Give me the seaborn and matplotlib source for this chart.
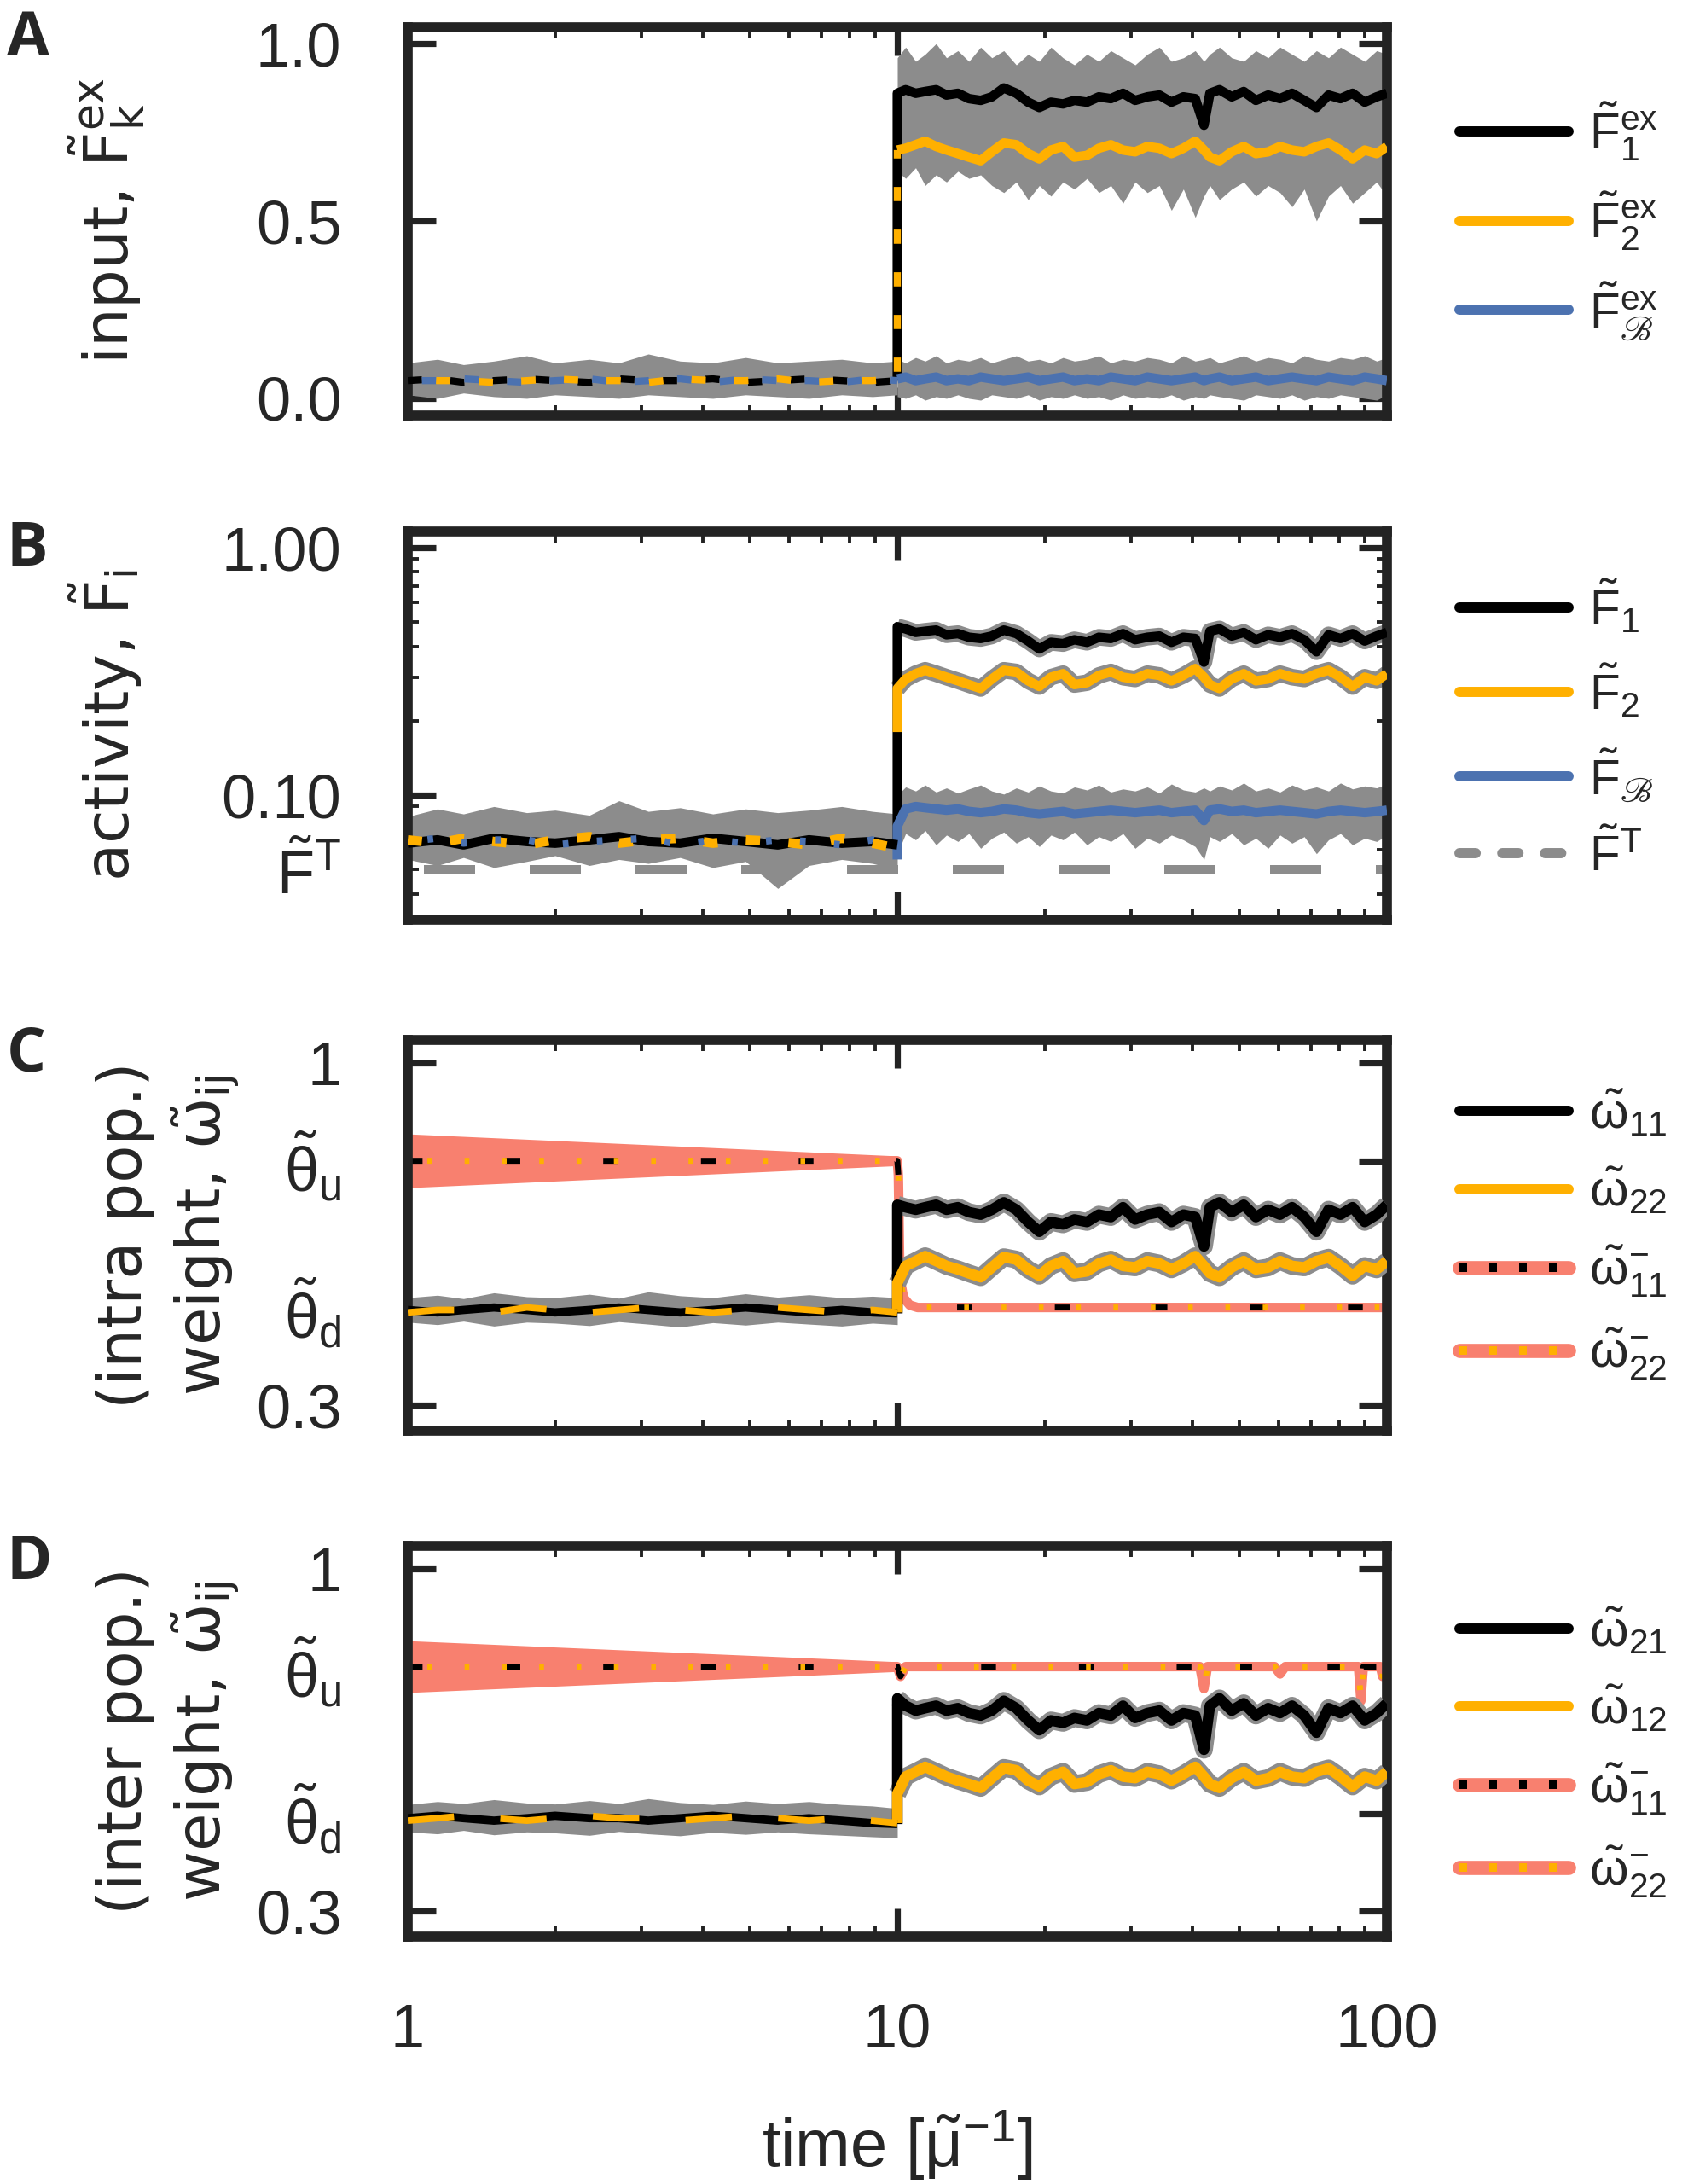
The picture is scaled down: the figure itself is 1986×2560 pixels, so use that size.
import matplotlib
matplotlib.use("Agg")
import matplotlib.pyplot as plt
import seaborn as sns
from matplotlib.lines import Line2D
from matplotlib.ticker import NullFormatter

sns.set_theme(style="white")
plt.rcParams["font.family"] = ["Liberation Sans", "DejaVu Sans"]
plt.rcParams["mathtext.fontset"] = "custom"
plt.rcParams["mathtext.rm"] = "Liberation Sans"
plt.rcParams["mathtext.it"] = "Liberation Sans:italic"
plt.rcParams["mathtext.default"] = "regular"
plt.rcParams["mathtext.fallback"] = "stix"

BLACK = "black"
ORANGE = "#FFB000"
BLUE = "#4C72B0"
GRAY = "#8C8C8C"
SALMON = "#F8806F"
SPINE = "#232323"
SCRIPT_B = "\u212C"

# sample times
T_PRE = [1.0, 1.15, 1.3, 1.5, 1.75, 2.0, 2.35, 2.7, 3.1, 3.6, 4.2, 4.9, 5.7, 6.6, 7.7, 8.9, 10.0]
T_POST = [10.0, 10.4, 10.9, 11.4, 12.0, 12.6, 13.3, 14.0, 14.8, 15.6,
          16.5, 17.5, 18.5, 19.5, 20.6, 21.8, 23.0, 24.4, 25.8, 27.3,
          28.9, 30.6, 32.4, 34.3, 36.3, 38.4, 40.6, 42.3, 43.5, 45.5,
          48.2, 51.0, 54.0, 57.2, 60.5, 64.0, 67.8, 71.8, 76.0, 80.4,
          85.1, 90.1, 95.3, 100.0]
T_WEDGE = [1.0, 10.0]

# ---- A: input ----
A_PRE_F1 = [0.05, 0.055, 0.045, 0.05, 0.055, 0.05, 0.045, 0.055, 0.05, 0.05, 0.055, 0.045, 0.05, 0.055, 0.05, 0.045, 0.05]
A_PRE_F2 = [0.055, 0.05, 0.05, 0.045, 0.05, 0.055, 0.05, 0.05, 0.045, 0.055, 0.05, 0.05, 0.055, 0.045, 0.05, 0.05, 0.055]
A_PRE_FB = [0.05, 0.05, 0.055, 0.05, 0.045, 0.05, 0.055, 0.045, 0.05, 0.055, 0.045, 0.055, 0.05, 0.05, 0.045, 0.055, 0.05]
A_PRE_HI = [0.10, 0.11, 0.095, 0.105, 0.12, 0.10, 0.11, 0.10, 0.125, 0.105, 0.10, 0.115, 0.10, 0.105, 0.11, 0.10, 0.105]
A_PRE_LO = [0.01, 0.0, 0.015, 0.005, 0.0, 0.01, 0.005, 0.0, 0.01, 0.005, 0.0, 0.01, 0.005, 0.0, 0.01, 0.005, 0.01]
A_F1 = [0.86, 0.87, 0.86, 0.865, 0.87, 0.855, 0.86, 0.845, 0.84, 0.85,
        0.875, 0.86, 0.835, 0.82, 0.835, 0.83, 0.84, 0.835, 0.85, 0.845,
        0.86, 0.84, 0.85, 0.855, 0.835, 0.85, 0.845, 0.77, 0.86, 0.87,
        0.85, 0.865, 0.84, 0.855, 0.845, 0.86, 0.84, 0.82, 0.855, 0.845,
        0.86, 0.835, 0.85, 0.86]
A_F2 = [0.70, 0.705, 0.715, 0.725, 0.71, 0.70, 0.69, 0.68, 0.67, 0.695,
        0.72, 0.715, 0.69, 0.675, 0.70, 0.71, 0.68, 0.685, 0.705, 0.715,
        0.70, 0.695, 0.71, 0.705, 0.69, 0.705, 0.725, 0.70, 0.68, 0.67,
        0.695, 0.71, 0.69, 0.695, 0.71, 0.70, 0.695, 0.71, 0.72, 0.70,
        0.675, 0.70, 0.69, 0.71]
A_FB = [0.055, 0.06, 0.05, 0.055, 0.06, 0.05, 0.055, 0.05, 0.06, 0.055,
        0.05, 0.055, 0.06, 0.05, 0.055, 0.06, 0.05, 0.055, 0.05, 0.06,
        0.055, 0.05, 0.06, 0.055, 0.05, 0.055, 0.06, 0.05, 0.055, 0.06,
        0.05, 0.055, 0.06, 0.05, 0.055, 0.06, 0.055, 0.05, 0.06, 0.055,
        0.05, 0.06, 0.055, 0.05]
A_HI = [0.96, 0.99, 0.95, 0.97, 1.0, 0.96, 0.98, 0.95, 0.99, 0.96,
        0.98, 0.94, 0.97, 0.95, 0.99, 0.96, 0.94, 0.97, 0.95, 0.98,
        0.96, 0.94, 0.97, 0.99, 0.95, 0.96, 0.98, 0.95, 0.97, 0.99,
        0.96, 0.95, 0.98, 0.96, 0.99, 0.97, 0.95, 0.98, 0.96, 0.99,
        0.97, 0.95, 0.98, 0.97]
A_LO = [0.64, 0.62, 0.65, 0.60, 0.63, 0.61, 0.64, 0.62, 0.63, 0.60,
        0.58, 0.61, 0.56, 0.60, 0.57, 0.61, 0.59, 0.62, 0.58, 0.60,
        0.55, 0.61, 0.58, 0.60, 0.53, 0.59, 0.51, 0.57, 0.60, 0.56,
        0.59, 0.61, 0.57, 0.60, 0.58, 0.54, 0.59, 0.50, 0.57, 0.60,
        0.55, 0.58, 0.61, 0.57]
A_B_HI = [0.11, 0.10, 0.115, 0.105, 0.12, 0.10, 0.11, 0.105, 0.115, 0.10,
          0.11, 0.12, 0.105, 0.11, 0.10, 0.115, 0.105, 0.11, 0.12, 0.10,
          0.11, 0.105, 0.115, 0.11, 0.10, 0.12, 0.105, 0.11, 0.115, 0.10,
          0.11, 0.12, 0.105, 0.115, 0.11, 0.10, 0.12, 0.11, 0.105, 0.115,
          0.11, 0.12, 0.105, 0.115]
A_B_LO = [0.005, 0.0, 0.01, -0.005, 0.005, 0.0, 0.01, 0.0, -0.005, 0.01,
          0.005, 0.0, 0.01, -0.005, 0.005, 0.0, 0.01, 0.0, 0.005, -0.005,
          0.01, 0.0, 0.005, 0.0, 0.01, -0.005, 0.005, 0.0, 0.01, 0.005,
          0.0, -0.005, 0.01, 0.005, 0.0, 0.01, -0.005, 0.005, 0.0, 0.01,
          0.005, 0.0, -0.005, 0.01]

# ---- B: activity ----
FT_LEVEL = 0.05
B_PRE_F1 = [0.064, 0.066, 0.063, 0.067, 0.065, 0.064, 0.066, 0.068, 0.065, 0.064, 0.067, 0.065, 0.063, 0.066, 0.064, 0.065, 0.063]
B_PRE_F2 = [0.066, 0.064, 0.067, 0.065, 0.063, 0.066, 0.068, 0.064, 0.066, 0.067, 0.064, 0.066, 0.065, 0.063, 0.067, 0.064, 0.061]
B_PRE_FB = [0.065, 0.067, 0.064, 0.066, 0.066, 0.063, 0.065, 0.066, 0.067, 0.063, 0.066, 0.064, 0.066, 0.065, 0.063, 0.066, 0.06]
B_PRE_HI = [0.082, 0.088, 0.084, 0.09, 0.085, 0.087, 0.083, 0.095, 0.086, 0.089, 0.084, 0.088, 0.085, 0.087, 0.09, 0.086, 0.084]
B_PRE_LO = [0.055, 0.052, 0.056, 0.051, 0.054, 0.057, 0.052, 0.055, 0.053, 0.056, 0.051, 0.054, 0.042, 0.052, 0.055, 0.053, 0.05]
B_F1 = [0.48, 0.47, 0.455, 0.46, 0.465, 0.445, 0.45, 0.435, 0.43, 0.44,
        0.465, 0.45, 0.42, 0.39, 0.415, 0.41, 0.425, 0.415, 0.435, 0.43,
        0.45, 0.425, 0.435, 0.44, 0.415, 0.435, 0.43, 0.345, 0.46, 0.47,
        0.44, 0.455, 0.425, 0.445, 0.435, 0.45, 0.425, 0.38, 0.445, 0.43,
        0.45, 0.42, 0.44, 0.455]
B_F2 = [0.27, 0.295, 0.31, 0.32, 0.31, 0.30, 0.29, 0.28, 0.27, 0.295,
        0.32, 0.315, 0.29, 0.275, 0.30, 0.31, 0.28, 0.285, 0.305, 0.315,
        0.30, 0.295, 0.31, 0.305, 0.29, 0.305, 0.325, 0.30, 0.28, 0.27,
        0.295, 0.31, 0.29, 0.295, 0.31, 0.30, 0.295, 0.31, 0.32, 0.30,
        0.275, 0.30, 0.29, 0.31]
B_FB = [0.075, 0.088, 0.09, 0.089, 0.088, 0.087, 0.088, 0.086, 0.085, 0.086,
        0.088, 0.087, 0.085, 0.084, 0.085, 0.086, 0.084, 0.085, 0.086, 0.087,
        0.086, 0.085, 0.086, 0.087, 0.085, 0.086, 0.087, 0.079, 0.087, 0.088,
        0.086, 0.087, 0.085, 0.086, 0.087, 0.086, 0.085, 0.084, 0.086, 0.087,
        0.086, 0.085, 0.086, 0.087]
B_HI = [0.10, 0.108, 0.104, 0.11, 0.103, 0.107, 0.102, 0.106, 0.11, 0.104,
        0.101, 0.107, 0.103, 0.109, 0.104, 0.102, 0.108, 0.105, 0.11, 0.103,
        0.106, 0.104, 0.108, 0.102, 0.111, 0.105, 0.103, 0.107, 0.104, 0.109,
        0.105, 0.112, 0.104, 0.107, 0.103, 0.11, 0.105, 0.108, 0.104, 0.112,
        0.106, 0.109, 0.107, 0.111]
B_LO = [0.058, 0.07, 0.066, 0.072, 0.063, 0.069, 0.065, 0.07, 0.061, 0.067,
        0.071, 0.064, 0.068, 0.062, 0.069, 0.066, 0.071, 0.063, 0.068, 0.065,
        0.07, 0.061, 0.067, 0.064, 0.069, 0.066, 0.062, 0.055, 0.068, 0.065,
        0.07, 0.063, 0.067, 0.061, 0.069, 0.064, 0.068, 0.058, 0.066, 0.07,
        0.063, 0.067, 0.065, 0.069]

# ---- C: intra population weights ----
C_PRE_W11 = [0.495, 0.49, 0.495, 0.5, 0.495, 0.49, 0.495, 0.5, 0.495, 0.49, 0.495, 0.5, 0.495, 0.49, 0.495, 0.49, 0.488]
C_PRE_W22 = [0.49, 0.495, 0.495, 0.49, 0.5, 0.495, 0.49, 0.495, 0.5, 0.495, 0.49, 0.495, 0.5, 0.495, 0.49, 0.495, 0.49]
C_PRE_HI = [0.52, 0.525, 0.518, 0.53, 0.522, 0.52, 0.527, 0.519, 0.532, 0.524, 0.52, 0.528, 0.521, 0.526, 0.52, 0.523, 0.52]
C_PRE_LO = [0.47, 0.465, 0.472, 0.462, 0.47, 0.468, 0.463, 0.471, 0.466, 0.46, 0.469, 0.464, 0.47, 0.466, 0.462, 0.468, 0.465]
C_W11 = [0.71, 0.705, 0.70, 0.705, 0.71, 0.70, 0.705, 0.695, 0.69, 0.70,
         0.715, 0.70, 0.675, 0.655, 0.675, 0.67, 0.68, 0.675, 0.69, 0.685,
         0.705, 0.68, 0.69, 0.695, 0.675, 0.69, 0.685, 0.625, 0.705, 0.715,
         0.695, 0.71, 0.685, 0.70, 0.69, 0.705, 0.685, 0.655, 0.70, 0.69,
         0.705, 0.675, 0.69, 0.71]
C_W22 = [0.55, 0.585, 0.595, 0.605, 0.595, 0.585, 0.578, 0.57, 0.562, 0.582,
         0.603, 0.598, 0.578, 0.565, 0.585, 0.595, 0.57, 0.574, 0.59, 0.598,
         0.585, 0.582, 0.595, 0.59, 0.578, 0.59, 0.605, 0.585, 0.57, 0.562,
         0.582, 0.595, 0.578, 0.582, 0.595, 0.585, 0.582, 0.595, 0.602, 0.585,
         0.565, 0.585, 0.578, 0.595]
C_WEDGE_HI = [0.855, 0.81]
C_WEDGE_LO = [0.745, 0.79]
T_BAR_C = [1.0, 10.0, 10.05, 10.12, 10.3, 10.6, 11.0, 100.0]
C_BAR = [0.80, 0.80, 0.77, 0.56, 0.52, 0.505, 0.50, 0.50]

# ---- D: inter population weights ----
D_PRE_W21 = [0.49, 0.495, 0.49, 0.485, 0.49, 0.495, 0.49, 0.49, 0.485, 0.49, 0.495, 0.49, 0.485, 0.49, 0.485, 0.48, 0.478]
D_PRE_W12 = [0.485, 0.49, 0.495, 0.49, 0.485, 0.49, 0.495, 0.49, 0.49, 0.485, 0.49, 0.495, 0.49, 0.485, 0.49, 0.485, 0.48]
D_PRE_HI = [0.518, 0.524, 0.52, 0.528, 0.521, 0.519, 0.526, 0.52, 0.53, 0.522, 0.518, 0.525, 0.52, 0.524, 0.518, 0.515, 0.51]
D_PRE_LO = [0.462, 0.458, 0.465, 0.456, 0.462, 0.46, 0.455, 0.463, 0.458, 0.454, 0.461, 0.457, 0.462, 0.458, 0.455, 0.452, 0.45]
D_W21 = [0.735, 0.72, 0.71, 0.715, 0.72, 0.71, 0.715, 0.705, 0.70, 0.71,
         0.73, 0.715, 0.69, 0.67, 0.69, 0.685, 0.695, 0.69, 0.705, 0.70,
         0.72, 0.695, 0.705, 0.71, 0.69, 0.705, 0.70, 0.63, 0.72, 0.735,
         0.71, 0.725, 0.70, 0.715, 0.705, 0.72, 0.70, 0.665, 0.715, 0.705,
         0.72, 0.69, 0.705, 0.725]
D_W12 = [0.54, 0.575, 0.585, 0.595, 0.585, 0.575, 0.567, 0.56, 0.552, 0.572,
         0.593, 0.588, 0.567, 0.555, 0.575, 0.585, 0.56, 0.564, 0.58, 0.588,
         0.575, 0.572, 0.585, 0.58, 0.567, 0.58, 0.595, 0.575, 0.56, 0.552,
         0.572, 0.585, 0.567, 0.572, 0.585, 0.575, 0.572, 0.585, 0.592, 0.575,
         0.555, 0.575, 0.567, 0.585]
D_WEDGE_HI = [0.853, 0.81]
D_WEDGE_LO = [0.747, 0.79]
T_BAR_D = [1.0, 10.0, 10.15, 10.4, 41.5, 42.3, 43.0, 59.0, 60.5, 62.0, 87.5, 88.5, 89.5, 97.0, 98.0, 99.0, 100.0]
D_BAR = [0.80, 0.80, 0.78, 0.80, 0.80, 0.755, 0.80, 0.80, 0.785, 0.80, 0.80, 0.73, 0.80, 0.80, 0.78, 0.80, 0.80]

THETA_U, THETA_D = 0.8, 0.5
B_MINOR = [0.04, 0.05, 0.06, 0.07, 0.08, 0.09, 0.2, 0.3, 0.4, 0.5, 0.6, 0.7, 0.8, 0.9]


def trace(ax, x, y, color, lw, ls="-", z=3, cap="butt"):
    sns.lineplot(x=x, y=y, ax=ax, color=color, linewidth=lw, linestyle=ls,
                 estimator=None, sort=False, legend=False, zorder=z,
                 solid_capstyle=cap, dash_capstyle=cap)


def band(ax, x, lo, hi, color=GRAY, z=2):
    ax.fill_between(x, lo, hi, color=color, lw=0, zorder=z)


def style_axes(ax, bottom_labels=False):
    ax.set_xscale("log")
    ax.set_xlim(1, 100)
    for s in ax.spines.values():
        s.set_linewidth(4.2)
        s.set_color(SPINE)
    ax.tick_params(which="both", direction="in", top=True, right=True,
                   bottom=True, left=True, color=SPINE)
    ax.tick_params(which="major", length=12, width=2.6, pad=28, labelsize=26)
    ax.tick_params(which="minor", length=4.5, width=1.4)
    ax.set_xticks([1, 10, 100], ["1", "10", "100"])
    ax.xaxis.set_minor_formatter(NullFormatter())
    if not bottom_labels:
        ax.tick_params(labelbottom=False)
    ax.set_xlabel("")


def add_legend(ax, handles, labels, y=0.5):
    ax.legend(handles, labels, loc="center left", bbox_to_anchor=(1.074, y),
              frameon=False, fontsize=21, handlelength=2.2, handletextpad=0.4,
              labelspacing=0.55, borderpad=0, borderaxespad=0)


def hline(color, **kw):
    return Line2D([], [], color=color, lw=4.3, **kw)


def bar_handle(color):
    return (Line2D([], [], color=SALMON, lw=6, solid_capstyle="round"),
            Line2D([], [], color=color, lw=3.6, ls=(0, (0.9, 2.6))))


fig = plt.figure(figsize=(9.93, 12.8), dpi=200)
axA = fig.add_axes([0.2407, 0.8098, 0.578, 0.1777])
axB = fig.add_axes([0.2407, 0.5789, 0.578, 0.1777])
axC = fig.add_axes([0.2407, 0.3449, 0.578, 0.1789])
axD = fig.add_axes([0.2407, 0.1133, 0.578, 0.1789])

# ---------- A ----------
ax = axA
ax.set_xscale("log")
band(ax, T_PRE, A_PRE_LO, A_PRE_HI)
band(ax, T_POST, A_LO, A_HI)
band(ax, T_POST, A_B_LO, A_B_HI)
trace(ax, [10.0] + T_POST, [A_PRE_F1[-1]] + A_F1, BLACK, 4)
trace(ax, T_POST, A_F2, ORANGE, 4)
trace(ax, T_POST, A_FB, BLUE, 4)
trace(ax, T_PRE, A_PRE_F1, BLACK, 3, ls=(0, (2, 4)))
trace(ax, T_PRE + [10.0], A_PRE_F2 + [A_F2[0]], ORANGE, 3, ls=(2, (2, 4)), z=4)
trace(ax, T_PRE, A_PRE_FB, BLUE, 3, ls=(4, (2, 4)))
style_axes(ax)
ax.set_ylim(-0.048, 1.046)
ax.set_yticks([0.0, 0.5, 1.0], ["0.0", "0.5", "1.0"])
ax.set_ylabel(r"input, $\tilde{F}^{ex}_{k}$", fontsize=26, fontfamily="DejaVu Sans")
ax.yaxis.set_label_coords(-0.2666, 0.5)
add_legend(ax, [hline(BLACK), hline(ORANGE), hline(BLUE)],
           [r"$\tilde{F}^{ex}_{1}$", r"$\tilde{F}^{ex}_{2}$",
            r"$\tilde{F}^{ex}_{%s}$" % SCRIPT_B])

# ---------- B ----------
ax = axB
ax.set_xscale("log")
ax.set_yscale("log")
ax.axhline(FT_LEVEL, color=GRAY, lw=3.6, ls=(10.5, (6, 6.4)), zorder=1.5)
band(ax, T_PRE, B_PRE_LO, B_PRE_HI)
band(ax, T_POST, B_LO, B_HI)
trace(ax, T_POST, B_F1, GRAY, 7, z=2.5)
trace(ax, T_POST, B_F2, GRAY, 7, z=2.5)
trace(ax, [10.0] + T_POST, [B_PRE_F1[-1]] + B_F1, BLACK, 4)
trace(ax, [10.0] + T_POST, [0.18] + B_F2, ORANGE, 4)
trace(ax, [10.0] + T_POST, [0.055] + B_FB, BLUE, 4)
trace(ax, T_PRE, B_PRE_F1, BLACK, 4)
trace(ax, T_PRE, B_PRE_F2, ORANGE, 4, ls=(0, (1.5, 3)))
trace(ax, T_PRE, B_PRE_FB, BLUE, 3, ls=(2, (0.8, 4)))
style_axes(ax)
ax.set_ylim(0.0314, 1.163)
ax.set_yticks([0.1, 1.0], ["0.10", "1.00"])
ax.set_yticks(B_MINOR, [r"$\tilde{F}^{T}$" if v == FT_LEVEL else "" for v in B_MINOR], minor=True)
ax.tick_params(axis="y", which="minor", labelsize=26, pad=28)
ax.set_ylabel(r"activity, $\tilde{F}_{i}$", fontsize=26, fontfamily="DejaVu Sans")
ax.yaxis.set_label_coords(-0.269, 0.5)
add_legend(ax, [hline(BLACK), hline(ORANGE), hline(BLUE),
                hline(GRAY, ls=(0, (1.6, 2.6)), dash_capstyle="round")],
           [r"$\tilde{F}_{1}$", r"$\tilde{F}_{2}$", r"$\tilde{F}_{%s}$" % SCRIPT_B,
            r"$\tilde{F}^{T}$"], y=0.49)


def weight_panel(ax, pre_a, pre_b, pre_lo, pre_hi, post_a, post_b,
                 w_lo, w_hi, t_bar, bar, bottom_labels=False):
    ax.set_xscale("log")
    band(ax, T_WEDGE, w_lo, w_hi, color=SALMON, z=1.5)
    trace(ax, t_bar, bar, SALMON, 4, z=2.2)
    trace(ax, t_bar, bar, BLACK, 2.5, ls=(0, (2.5, 14)), z=2.4)
    trace(ax, t_bar, bar, ORANGE, 2.5, ls=(3, (0.8, 5.5)), z=2.5)
    band(ax, T_PRE, pre_lo, pre_hi)
    trace(ax, T_POST, post_a, GRAY, 7.5, z=2.6)
    trace(ax, T_POST, post_b, GRAY, 7.5, z=2.6)
    trace(ax, [10.0] + T_POST, [pre_a[-1]] + post_a, BLACK, 4.5)
    trace(ax, [10.0] + T_POST, [pre_b[-1]] + post_b, ORANGE, 4.5)
    trace(ax, T_PRE, pre_a, BLACK, 3.5)
    trace(ax, T_PRE, pre_b, ORANGE, 2.8, ls=(0, (7, 7)))
    style_axes(ax, bottom_labels=bottom_labels)
    ax.set_ylim(0.248, 1.047)
    ax.set_yticks([0.3, THETA_D, THETA_U, 1.0],
                  ["0.3", r"$\tilde{\theta}_{d}$", r"$\tilde{\theta}_{u}$", "1"])


weight_panel(axC, C_PRE_W11, C_PRE_W22, C_PRE_LO, C_PRE_HI, C_W11, C_W22,
             C_WEDGE_LO, C_WEDGE_HI, T_BAR_C, C_BAR)
axC.set_ylabel("(intra pop.)\n" + r"weight, $\tilde{\omega}_{ij}$", fontsize=26,
               fontfamily="DejaVu Sans", linespacing=1.3)
axC.yaxis.set_label_coords(-0.169, 0.5)
add_legend(axC, [hline(BLACK), hline(ORANGE), bar_handle(BLACK), bar_handle(ORANGE)],
           [r"$\tilde{\omega}_{11}$", r"$\tilde{\omega}_{22}$",
            r"$\tilde{\omega}^{-}_{11}$", r"$\tilde{\omega}^{-}_{22}$"])

weight_panel(axD, D_PRE_W21, D_PRE_W12, D_PRE_LO, D_PRE_HI, D_W21, D_W12,
             D_WEDGE_LO, D_WEDGE_HI, T_BAR_D, D_BAR, bottom_labels=True)
axD.set_ylabel("(inter pop.)\n" + r"weight, $\tilde{\omega}_{ij}$", fontsize=26,
               fontfamily="DejaVu Sans", linespacing=1.3)
axD.yaxis.set_label_coords(-0.169, 0.5)
axD.set_xlabel(r"time [$\tilde{\mu}^{-1}$]", fontsize=28)
axD.xaxis.set_label_coords(0.5, -0.44)
add_legend(axD, [hline(BLACK), hline(ORANGE), bar_handle(BLACK), bar_handle(ORANGE)],
           [r"$\tilde{\omega}_{21}$", r"$\tilde{\omega}_{12}$",
            r"$\tilde{\omega}^{-}_{11}$", r"$\tilde{\omega}^{-}_{22}$"], y=0.47)

for letter, top in zip("ABCD", [10, 608, 1200, 1796]):
    fig.text(8 / 1986, 1 - top / 2560, letter, fontsize=26, fontweight="bold",
             family=["Open Sans", "DejaVu Sans"], va="top", ha="left")

fig.savefig("out.png", dpi=200)
